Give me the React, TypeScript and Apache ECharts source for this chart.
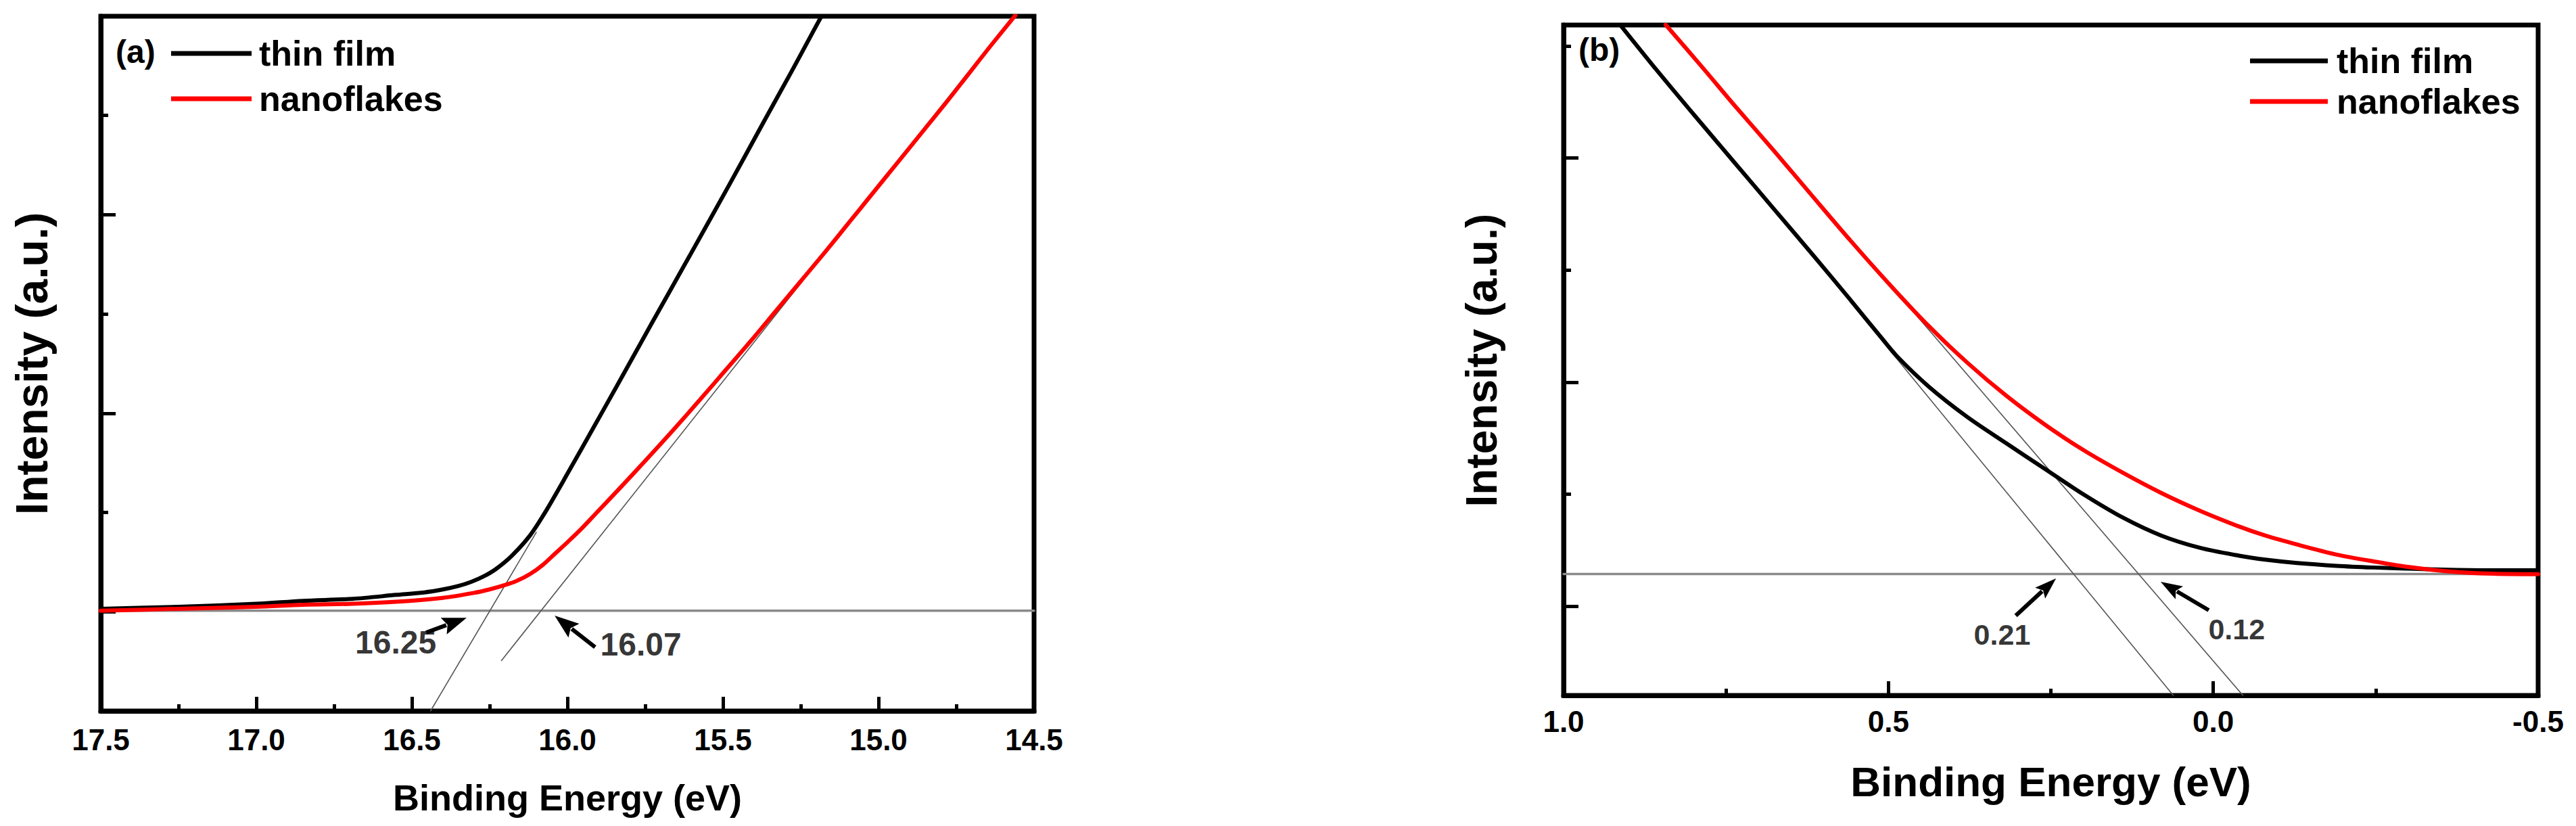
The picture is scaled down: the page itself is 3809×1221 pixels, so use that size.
import React, { useEffect, useRef } from "react";
import * as echarts from "echarts";

const FONT = '"Liberation Sans", Arial, Helvetica, sans-serif';

// ---------- Panel (a): binding energy (eV) vs intensity (a.u.) ----------
const thinFilmA: [number, number][] = [
  [17.5, 1.03], [17.25, 1.05], [17.0, 1.08], [16.85, 1.11], [16.69, 1.13], [16.55, 1.17],
  [16.46, 1.195], [16.4, 1.225], [16.35, 1.26], [16.31, 1.3], [16.27, 1.355], [16.23, 1.43],
  [16.18, 1.56], [16.12, 1.77], [16.07, 2.01], [16.0, 2.39], [15.91, 2.89], [15.84, 3.28],
  [15.73, 3.9], [15.61, 4.57], [15.48, 5.3], [15.37, 5.93], [15.28, 6.44], [15.23, 6.73],
  [15.18, 7.02],
];
const nanoflakesA: [number, number][] = [
  [17.5, 1.01], [17.25, 1.03], [17.0, 1.05], [16.85, 1.07], [16.69, 1.08], [16.55, 1.1],
  [16.4, 1.14], [16.3, 1.19], [16.25, 1.225], [16.2, 1.27], [16.16, 1.315], [16.12, 1.38],
  [16.08, 1.47], [16.04, 1.585], [16.0, 1.7], [15.96, 1.82], [15.91, 1.985], [15.83, 2.25],
  [15.75, 2.52], [15.66, 2.83], [15.57, 3.15], [15.49, 3.44], [15.41, 3.73], [15.33, 4.03],
  [15.25, 4.33], [15.17, 4.63], [15.09, 4.94], [15.01, 5.25], [14.93, 5.56], [14.85, 5.87],
  [14.78, 6.14], [14.71, 6.42], [14.64, 6.7], [14.56, 7.01],
];
const baselineA: [number, number][] = [[17.5, 1.01], [14.5, 1.01]];
const tangentThinA: [number, number][] = [[16.44, 0.0], [16.1, 1.8]];
const tangentNanoA: [number, number][] = [[16.212, 0.508], [14.67, 6.6]];
// arrows: [tailE, tailI, tipE, tipI]
const arrowsA: number[][] = [
  [16.454, 0.791, 16.324, 0.939],
  [15.911, 0.643, 16.041, 0.961],
];
const onsetLabelsA = [
  { value: [16.552, 0.695], name: "16.25" },
  { value: [15.764, 0.671], name: "16.07" },
];
const xTicksA = { min: 14.5, max: 17.5, step: 0.5 };
const yRangeA = { min: 0, max: 7 };
const yMajorA = [1, 3, 5];
const yMinorA = [2, 4, 6];

// ---------- Panel (b) ----------
const thinFilmB: [number, number][] = [
  [0.913, 6.19], [0.856, 5.78], [0.797, 5.37], [0.737, 4.96], [0.677, 4.55], [0.617, 4.14],
  [0.558, 3.73], [0.51, 3.39], [0.486, 3.225], [0.438, 2.96], [0.379, 2.69], [0.319, 2.455],
  [0.259, 2.225], [0.199, 1.995], [0.139, 1.79], [0.08, 1.63], [0.02, 1.52], [-0.04, 1.45],
  [-0.08, 1.415], [-0.129, 1.385], [-0.19, 1.36], [-0.246, 1.345], [-0.3, 1.335], [-0.363, 1.325],
  [-0.43, 1.32], [-0.5, 1.32],
];
const nanoflakesB: [number, number][] = [
  [0.843, 6.19], [0.785, 5.8], [0.737, 5.47], [0.677, 5.07], [0.617, 4.66], [0.558, 4.26],
  [0.498, 3.87], [0.438, 3.5], [0.378, 3.17], [0.319, 2.88], [0.259, 2.62], [0.199, 2.39],
  [0.139, 2.19], [0.08, 2.01], [0.02, 1.85], [-0.04, 1.71], [-0.08, 1.63], [-0.129, 1.55],
  [-0.19, 1.46], [-0.246, 1.4], [-0.3, 1.35], [-0.363, 1.31], [-0.43, 1.29], [-0.5, 1.285],
];
const baselineB: [number, number][] = [[1.0, 1.287], [-0.5, 1.287]];
const tangentThinB: [number, number][] = [[0.56, 3.723], [0.0615, 0.203]];
const tangentNanoB: [number, number][] = [[0.56, 4.291], [-0.0456, 0.203]];
const arrowsB: number[][] = [
  [0.304, 0.916, 0.242, 1.247],
  [0.007, 0.964, 0.081, 1.217],
];
const onsetLabelsB = [
  { value: [0.325, 0.745], name: "0.21" },
  { value: [-0.036, 0.797], name: "0.12" },
];
const xTicksB = { min: -0.5, max: 1.0, step: 0.5 };
const yRangeB = { min: 0.203, max: 6.187 };
const yMajorB = [1, 3, 5];
const yMinorB = [2, 4, 6];

const seriesNames = ["thin film", "nanoflakes"];
const BLACK = "#000000";
const RED = "#ff0000";

function xAxis(gridIndex: number, t: { min: number; max: number; step: number }, gap: number, nameSize: number, margin: number) {
  return {
    type: "value",
    gridIndex,
    min: t.min,
    max: t.max,
    interval: t.step,
    inverse: true,
    name: "Binding Energy (eV)",
    nameLocation: "middle",
    nameGap: gap,
    nameTextStyle: { fontFamily: FONT, fontSize: nameSize, fontWeight: "bold", color: BLACK },
    axisLine: { show: true, onZero: false, lineStyle: { color: BLACK, width: 7 } },
    axisTick: { show: true, inside: true, length: 21, lineStyle: { color: BLACK, width: 5 } },
    minorTick: { show: true, splitNumber: 2, length: 10, lineStyle: { color: BLACK, width: 5 } },
    axisLabel: {
      show: true,
      margin,
      fontFamily: FONT,
      fontSize: 44,
      fontWeight: "bold",
      color: BLACK,
      formatter: (v: number) => v.toFixed(1),
    },
    splitLine: { show: false },
    minorSplitLine: { show: false },
  };
}

function yAxes(gridIndex: number, r: { min: number; max: number }, major: number[], minor: number[], gap: number, nameSize: number) {
  const base = {
    type: "value",
    gridIndex,
    min: r.min,
    max: r.max,
    position: "left",
    offset: 0,
    axisLabel: { show: false },
    splitLine: { show: false },
  };
  return [
    {
      ...base,
      name: "Intensity (a.u.)",
      nameLocation: "middle",
      nameGap: gap,
      nameTextStyle: { fontFamily: FONT, fontSize: nameSize, fontWeight: "bold", color: BLACK },
      axisLine: { show: true, onZero: false, lineStyle: { color: BLACK, width: 7 } },
      axisTick: { show: true, inside: true, length: 22, lineStyle: { color: BLACK, width: 5 }, customValues: major },
    },
    {
      ...base,
      axisLine: { show: false, onZero: false },
      axisTick: { show: true, inside: true, length: 11, lineStyle: { color: BLACK, width: 5 }, customValues: minor },
    },
  ];
}

function lineSeries(name: string, data: [number, number][], xi: number, yi: number, color: string, width: number, smooth: number | boolean, z: number) {
  return {
    type: "line",
    name,
    data,
    xAxisIndex: xi,
    yAxisIndex: yi,
    showSymbol: false,
    symbol: "none",
    smooth,
    color,
    itemStyle: { color },
    lineStyle: { color, width, join: "round", cap: "round" },
    clip: true,
    silent: true,
    z,
  };
}

function arrowSeries(xi: number, yi: number, data: number[][], headLen: number, headHalf: number, width: number) {
  return {
    type: "custom",
    xAxisIndex: xi,
    yAxisIndex: yi,
    silent: true,
    z: 6,
    data,
    renderItem: (_p: any, api: any) => {
      const p1 = api.coord([api.value(0), api.value(1)]);
      const p2 = api.coord([api.value(2), api.value(3)]);
      const dx = p2[0] - p1[0];
      const dy = p2[1] - p1[1];
      const len = Math.hypot(dx, dy) || 1;
      const ux = dx / len;
      const uy = dy / len;
      const bx = p2[0] - ux * headLen;
      const by = p2[1] - uy * headLen;
      const px = -uy;
      const py = ux;
      return {
        type: "group",
        children: [
          {
            type: "line",
            shape: { x1: p1[0], y1: p1[1], x2: bx + ux * 4, y2: by + uy * 4 },
            style: { stroke: BLACK, lineWidth: width },
          },
          {
            type: "polygon",
            shape: {
              points: [
                [p2[0], p2[1]],
                [bx + px * headHalf, by + py * headHalf],
                [bx + ux * 6, by + uy * 6],
                [bx - px * headHalf, by - py * headHalf],
              ],
            },
            style: { fill: BLACK },
          },
        ],
      };
    },
  };
}

function labelSeries(xi: number, yi: number, data: any[], size: number) {
  return {
    type: "scatter",
    xAxisIndex: xi,
    yAxisIndex: yi,
    silent: true,
    symbolSize: 1,
    itemStyle: { color: "rgba(0,0,0,0)" },
    data,
    z: 7,
    label: {
      show: true,
      position: "inside",
      formatter: "{b}",
      fontFamily: FONT,
      fontSize: size,
      fontWeight: "bold",
      color: BLACK,
    },
  };
}

function legend(left: number, top: number, itemWidth: number, gap: number, pad: number) {
  return {
    show: true,
    orient: "vertical",
    left,
    top,
    padding: 0,
    itemGap: gap,
    itemWidth,
    itemHeight: 7,
    icon: "rect",
    selectedMode: false,
    data: [
      { name: seriesNames[0], itemStyle: { color: BLACK, borderWidth: 0 } },
      { name: seriesNames[1], itemStyle: { color: RED, borderWidth: 0 } },
    ],
    textStyle: {
      fontFamily: FONT,
      fontSize: 52,
      fontWeight: "bold",
      color: BLACK,
      lineHeight: 52,
      padding: [0, 0, 0, pad],
    },
  };
}

const GRAY_BASE = "#8a8a8a";
const GRAY_TAN = "#555555";

const option: any = {
  animation: false,
  backgroundColor: "#ffffff",
  title: [
    { text: "(a)", left: 171, top: 52, padding: 0, textStyle: { fontFamily: FONT, fontSize: 48, fontWeight: "bold", color: BLACK, lineHeight: 48 } },
    { text: "(b)", left: 2334, top: 49, padding: 0, textStyle: { fontFamily: FONT, fontSize: 48, fontWeight: "bold", color: BLACK, lineHeight: 48 } },
  ],
  legend: [legend(253, 53, 119, 15, 6), legend(3327, 64, 115, 8, 8)],
  grid: [
    { left: 149, top: 24, width: 1380, height: 1027, show: true, borderColor: BLACK, borderWidth: 7, backgroundColor: "transparent", containLabel: false },
    { left: 2312, top: 37, width: 1441, height: 991, show: true, borderColor: BLACK, borderWidth: 7, backgroundColor: "transparent", containLabel: false },
  ],
  xAxis: [xAxis(0, xTicksA, 101, 54, 20), xAxis(1, xTicksB, 96, 62, 16)],
  yAxis: [...yAxes(0, yRangeA, yMajorA, yMinorA, 69, 66), ...yAxes(1, yRangeB, yMajorB, yMinorB, 89, 64)],
  series: [
    lineSeries("baseline a", baselineA, 0, 0, GRAY_BASE, 3.5, false, 2),
    lineSeries("tangent thin a", tangentThinA, 0, 0, GRAY_TAN, 1.6, false, 2),
    lineSeries("tangent nano a", tangentNanoA, 0, 0, GRAY_TAN, 1.6, false, 2),
    lineSeries(seriesNames[0], thinFilmA, 0, 0, BLACK, 6, 0.3, 3),
    lineSeries(seriesNames[1], nanoflakesA, 0, 0, RED, 6, 0.3, 4),
    arrowSeries(0, 0, arrowsA, 36, 13, 6),
    labelSeries(0, 0, onsetLabelsA, 48),

    lineSeries("baseline b", baselineB, 1, 2, GRAY_BASE, 3.5, false, 2),
    lineSeries("tangent thin b", tangentThinB, 1, 2, GRAY_TAN, 1.6, false, 2),
    lineSeries("tangent nano b", tangentNanoB, 1, 2, GRAY_TAN, 1.6, false, 2),
    lineSeries(seriesNames[0], thinFilmB, 1, 2, BLACK, 6, 0.3, 3),
    lineSeries(seriesNames[1], nanoflakesB, 1, 2, RED, 6, 0.3, 4),
    arrowSeries(1, 2, arrowsB, 32, 11, 6),
    labelSeries(1, 2, onsetLabelsB, 43),
  ],
};

export default function App() {
  const ref = useRef<HTMLDivElement>(null);
  useEffect(() => {
    if (!ref.current) return;
    const chart = echarts.init(ref.current, null, { renderer: "svg" });
    chart.setOption(option);
    return () => chart.dispose();
  }, []);
  return (
    <div
      ref={ref}
      style={{ position: "fixed", left: 0, top: 0, width: 3809, height: 1221, background: "#ffffff" }}
    />
  );
}
